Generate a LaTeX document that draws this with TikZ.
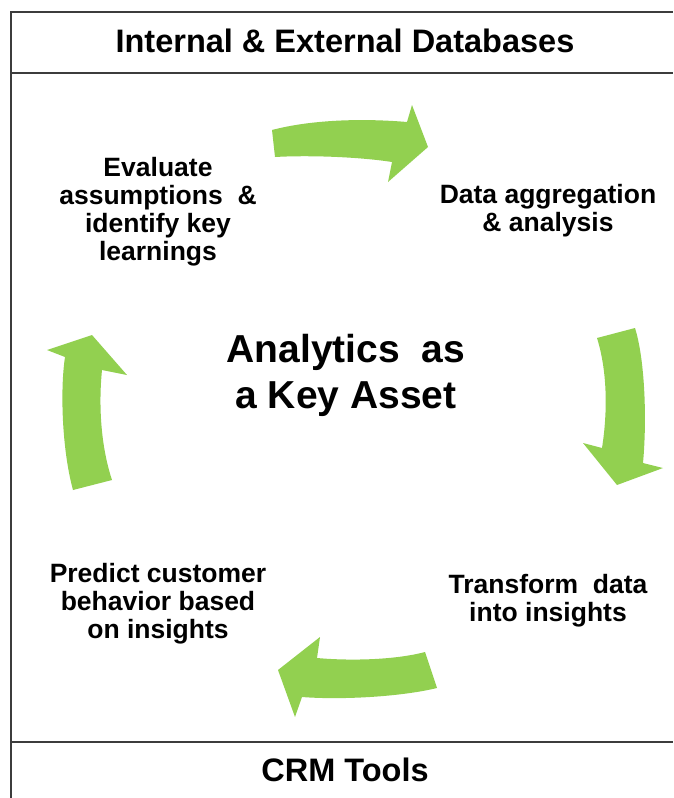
\documentclass[tikz,border=0pt]{standalone}
\usepackage{fontspec}
\setmainfont{Liberation Sans}
\definecolor{arrowgreen}{RGB}{146,208,80}
\definecolor{framegray}{RGB}{60,60,60}
\begin{document}
\begin{tikzpicture}[x=1pt,y=-1pt,
  lbl/.style={align=center,inner sep=0pt,font=\bfseries\fontsize{26.5}{28}\selectfont},
  head/.style={align=center,inner sep=0pt,font=\bfseries\fontsize{32.5}{36}\selectfont},
  big/.style={align=center,inner sep=0pt,font=\bfseries\fontsize{39}{46}\selectfont},
  frameline/.style={draw=framegray,line width=1.6pt},
  garrow/.style={fill=arrowgreen,draw=none}]
\useasboundingbox (0,0) rectangle (673,798);
\fill[white] (0,0) rectangle (673,798);
% frame
\draw[frameline] (11,798) -- (11,12) -- (673,12);
\draw[frameline] (11,73) -- (673,73);
\draw[frameline] (11,742) -- (673,742);
% headers
\node[head] (db) at (345,41) {Internal \& External Databases};
\node[head] (crm) at (345,770) {CRM Tools};
% center
\node[big] (center) at (346,375) {Analytics\ \ as\\a Key Asset};
% step labels
\node[lbl] (eval) at (158,212) {Evaluate\\assumptions\ \ \&\\identify key\\learnings};
\node[lbl] (agg) at (548,211) {Data aggregation\\\& analysis};
\node[lbl] (trans) at (548,601) {Transform\ \ data\\into insights};
\node[lbl] (pred) at (158,604) {Predict customer\\behavior based\\on insights};
% arrows
\path[garrow] (272,130) .. controls (310,120) and (360,118) .. (407,122) -- (412,105) -- (428,147) -- (388,182) -- (392,162) .. controls (360,157) and (310,155) .. (275,157) -- cycle;
\path[garrow] (597,338) -- (635,328) .. controls (645,360) and (647,420) .. (643,463) -- (663,468) -- (617,485) -- (583,443) -- (602,448) .. controls (608,410) and (607,370) .. (597,338) -- cycle;
\path[garrow] (425,652) -- (437,688) .. controls (400,697) and (340,700) .. (302,697) -- (295,717) -- (278,670) -- (320,637) -- (317,658) .. controls (350,661) and (395,660) .. (425,652) -- cycle;
\path[garrow] (112,480) -- (73,490) .. controls (62,450) and (60,390) .. (65,357) -- (47,350) -- (92,335) -- (127,375) -- (102,370) .. controls (98,410) and (102,450) .. (112,480) -- cycle;
\end{tikzpicture}
\end{document}
